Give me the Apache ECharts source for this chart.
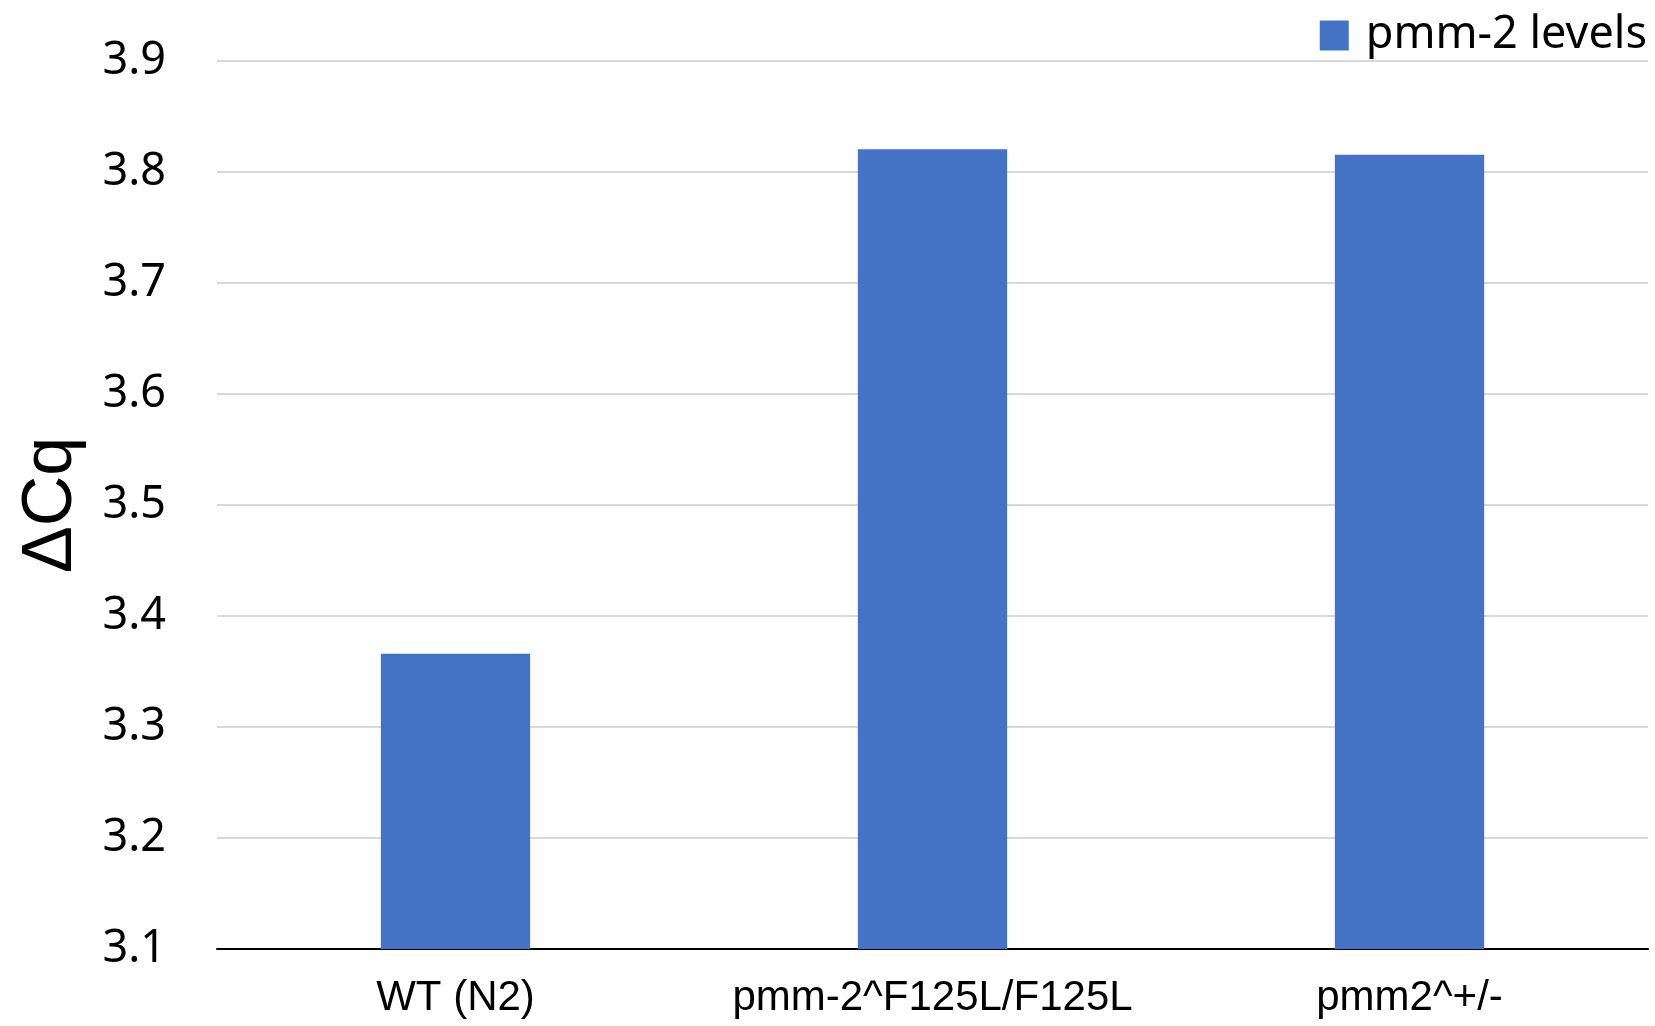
<!DOCTYPE html>
<html>
<head>
<meta charset="utf-8">
<script src="https://cdn.jsdelivr.net/npm/echarts@6/dist/echarts.min.js"></script>
<style>
html,body{margin:0;padding:0;background:#fff;}
#chart{width:1655px;height:1026px;}
</style>
</head>
<body>
<div id="chart"></div>
<script>
const categories = ['WT (N2)', 'pmm-2^F125L/F125L', 'pmm2^+/-'];
const seriesName = 'pmm-2 levels';
const values = [3.366, 3.8205, 3.8155];
const yMin = 3.1, yMax = 3.9, yStep = 0.1;

const chart = echarts.init(document.getElementById('chart'));
chart.setOption({
  backgroundColor: '#ffffff',
  animation: false,
  legend: {
    data: [seriesName],
    right: 3,
    top: 8,
    itemWidth: 29,
    itemHeight: 30,
    itemGap: 10,
    icon: 'rect',
    textStyle: { fontFamily: 'Noto Sans', fontSize: 45, color: '#000', padding: [0, 0, 0, 12] }
  },
  grid: { left: 217, right: 7, top: 61, bottom: 77, containLabel: false },
  xAxis: {
    type: 'category',
    data: categories,
    axisLine: { show: true, lineStyle: { color: '#000', width: 2 } },
    axisTick: { show: false },
    axisLabel: { interval: 0, margin: 28, fontFamily: 'Liberation Sans', fontSize: 42, color: '#000' }
  },
  yAxis: {
    type: 'value',
    min: yMin, max: yMax, interval: yStep,
    name: 'ΔCq',
    nameLocation: 'middle',
    nameGap: 130,
    nameRotate: 90,
    nameTextStyle: { fontFamily: 'Liberation Sans', fontSize: 70, color: '#000' },
    axisLine: { show: false },
    axisTick: { show: false },
    axisLabel: {
      margin: 51, fontFamily: 'Noto Sans', fontSize: 45, color: '#000',
      formatter: v => v.toFixed(1)
    },
    splitLine: { lineStyle: { color: '#d9d9d9', width: 2 } }
  },
  series: [{
    name: seriesName,
    type: 'bar',
    data: values,
    barWidth: '31.3%',
    itemStyle: { color: '#4472C4' }
  }]
});
</script>
</body>
</html>
